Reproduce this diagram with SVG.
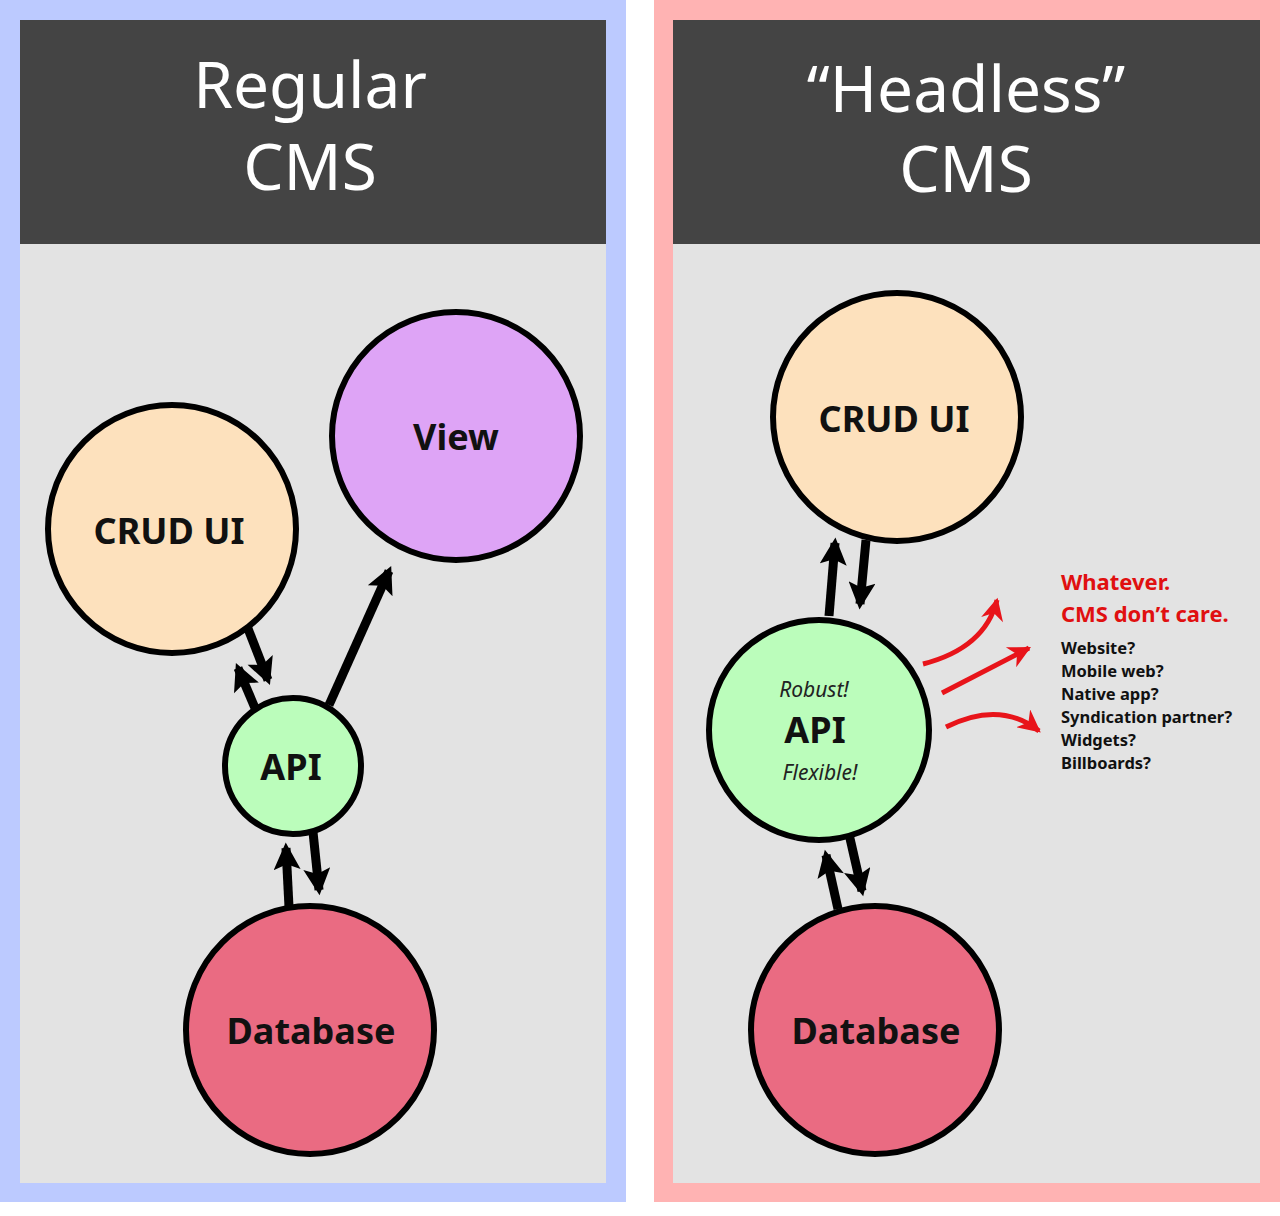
<svg xmlns="http://www.w3.org/2000/svg" width="1280" height="1216" viewBox="0 0 1280 1216">
<style>
.title{font-family:"Noto Sans","Open Sans",sans-serif;font-size:64px;fill:#fff;text-anchor:middle}
.lbl{font-family:"Noto Sans","Open Sans",sans-serif;font-size:36px;font-weight:bold;fill:#111;text-anchor:middle}
.it{font-family:"Noto Sans","Open Sans",sans-serif;font-size:21px;font-style:italic;fill:#222;text-anchor:middle}
.red{font-family:"Noto Sans","Open Sans",sans-serif;font-size:22px;font-weight:bold;fill:#e01010}
.sm{font-family:"Noto Sans","Open Sans",sans-serif;font-size:16.5px;font-weight:bold;fill:#111}
circle{stroke:#000;stroke-width:6}
.a{stroke:#000;stroke-width:9;fill:none;marker-end:url(#ah)}
.r{stroke:#e8141a;stroke-width:5;fill:none;marker-end:url(#rh)}
</style>
<defs>
<marker id="ah" viewBox="0 0 10 10" refX="8" refY="5" markerWidth="3.4" markerHeight="3" orient="auto" markerUnits="strokeWidth"><path d="M0,0 L10,5 L0,10 L2,5 z" fill="#000"/></marker>
<marker id="rh" viewBox="0 0 10 10" refX="9" refY="5" markerWidth="5.5" markerHeight="4.5" orient="auto" markerUnits="strokeWidth"><path d="M0,0 L10,5 L0,10 L3,5 z" fill="#e8141a"/></marker>
</defs>
<rect width="1280" height="1216" fill="#fff"/>
<rect x="0" y="0" width="626" height="1202" fill="#bccaff"/>
<rect x="20" y="20" width="586" height="1163" fill="#e3e3e3"/>
<rect x="20" y="20" width="586" height="224" fill="#444"/>
<rect x="654" y="0" width="626" height="1202" fill="#ffb3b3"/>
<rect x="673" y="20" width="587" height="1163" fill="#e3e3e3"/>
<rect x="673" y="20" width="587" height="224" fill="#444"/>
<text class="title" x="310" y="108">Regular</text>
<text class="title" x="310" y="190">CMS</text>
<text class="title" x="966" y="112">“Headless”</text>
<text class="title" x="966" y="192">CMS</text>
<g id="connectors">
<line class="a" x1="247" y1="626" x2="268" y2="680"/>
<line class="a" x1="255" y1="708" x2="238" y2="668"/>
<line class="a" x1="329" y1="705" x2="389" y2="571"/>
<line class="a" x1="313" y1="832" x2="319" y2="890"/>
<line class="a" x1="289" y1="907" x2="286" y2="848"/>
<line class="a" x1="829" y1="616" x2="835" y2="543"/>
<line class="a" x1="866" y1="540" x2="860" y2="604"/>
<line class="a" x1="838" y1="909" x2="826" y2="855"/>
<line class="a" x1="849" y1="834" x2="862" y2="891"/>
<path class="r" d="M923,664 Q985,648 997,600"/>
<path class="r" d="M942,693 L1029,648"/>
<path class="r" d="M946,727 Q1000,700 1039,731"/>
</g>
<g id="crud-left"><circle cx="172" cy="529" r="124" fill="#fde1bd"/><text class="lbl" x="169" y="544">CRUD UI</text></g>
<g id="view"><circle cx="456" cy="436" r="124" fill="#dea4f6"/><text class="lbl" x="456" y="450">View</text></g>
<g id="api-left"><circle cx="293" cy="766" r="68" fill="#bbfdbb"/><text class="lbl" x="291" y="780">API</text></g>
<g id="db-left"><circle cx="310" cy="1030" r="124" fill="#ea6b82"/><text class="lbl" x="311" y="1044">Database</text></g>
<g id="crud-right"><circle cx="897" cy="417" r="124" fill="#fde1bd"/><text class="lbl" x="894" y="432">CRUD UI</text></g>
<g id="api-right"><circle cx="819" cy="730" r="110" fill="#bbfdbb"/>
<text class="it" x="814" y="697">Robust!</text><text class="lbl" x="815" y="743">API</text><text class="it" x="820" y="780">Flexible!</text></g>
<g id="db-right"><circle cx="875" cy="1030" r="124" fill="#ea6b82"/><text class="lbl" x="876" y="1044">Database</text></g>
<g id="notes">
<text class="red" x="1061" y="590">Whatever.</text>
<text class="red" x="1061" y="622">CMS don’t care.</text>
<text class="sm" x="1061" y="654">Website?</text>
<text class="sm" x="1061" y="677">Mobile web?</text>
<text class="sm" x="1061" y="700">Native app?</text>
<text class="sm" x="1061" y="723">Syndication partner?</text>
<text class="sm" x="1061" y="746">Widgets?</text>
<text class="sm" x="1061" y="769">Billboards?</text>
</g>
</svg>
